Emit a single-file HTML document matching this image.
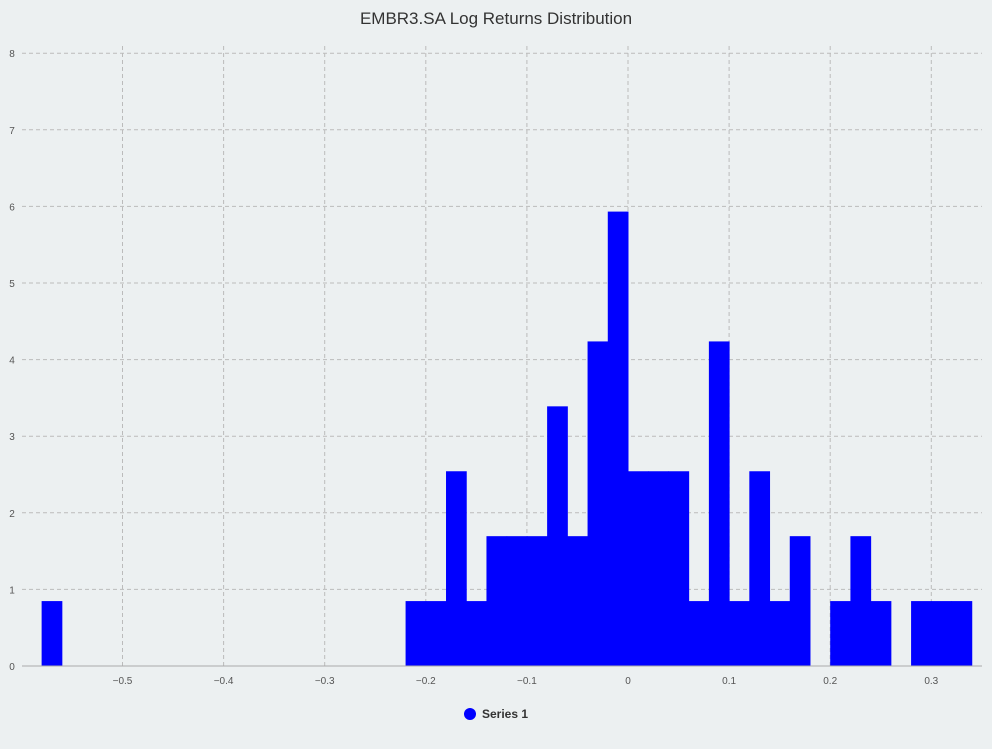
<!DOCTYPE html>
<html><head><meta charset="utf-8"><style>
body{margin:0;background:#ecf0f1;font-family:"Liberation Sans",sans-serif;}
svg text{font-family:"Liberation Sans",sans-serif;}
</style></head><body>
<svg width="992" height="744" id="c">
<rect width="992" height="744" fill="#ecf0f1"/>
<text x="496" y="24" text-anchor="middle" font-size="17" fill="#333">EMBR3.SA Log Returns Distribution</text>
<g id="grid"></g><g id="bars"></g><g id="axes"></g>
<g>
<circle cx="470" cy="714" r="6" fill="#0000ff"/>
<text x="482" y="718" font-size="12" font-weight="bold" fill="#333">Series 1</text>
</g>
</svg>
<script>
const binStarts=[-0.58,-0.22,-0.20,-0.18,-0.16,-0.14,-0.12,-0.10,-0.08,-0.06,-0.04,-0.02,0.00,0.02,0.04,0.06,0.08,0.10,0.12,0.14,0.16,0.18,0.20,0.22,0.24,0.26,0.28,0.30,0.32];
const counts=[1,1,1,3,1,2,2,2,4,2,5,7,3,3,3,1,5,1,3,1,2,0,1,2,1,0,1,1,1];
const binWidth=0.02;
const xTicks=[-0.5,-0.4,-0.3,-0.2,-0.1,0,0.1,0.2,0.3];
const yTicks=[0,1,2,3,4,5,6,7,8];
const density=1/(59*binWidth);
const X=v=>628+v*1011, Y=v=>666-v*76.6;
const ns="http://www.w3.org/2000/svg";
function mk(t,a,p){const e=document.createElementNS(ns,t);for(const k in a)e.setAttribute(k,a[k]);p.appendChild(e);return e;}
const g=document.getElementById('grid'),b=document.getElementById('bars'),ax=document.getElementById('axes');
yTicks.forEach(t=>{
 if(t>0){const l=mk('line',{x1:22,x2:982,y1:Y(t),y2:Y(t),stroke:'#bbb','stroke-dasharray':'4,3'},g);
 
 }
 const tx=mk('text',{x:12,y:Y(t)+4,'font-size':10,fill:'#555','text-anchor':'middle'},ax);tx.textContent=t;
 
 
});
xTicks.forEach(t=>{
 const l=mk('line',{x1:X(t),x2:X(t),y1:46,y2:666,stroke:'#bbb','stroke-dasharray':'4,3'},g);
 
 
 const tx=mk('text',{x:X(t),y:684,'font-size':10,fill:'#555','text-anchor':'middle'},ax);
 tx.textContent=t===0?'0':(t<0?'−':'')+Math.abs(t).toFixed(1).replace(/^0/,'0');
 
 
});
binStarts.forEach((s,i)=>{
 if(!counts[i])return;
 const h=counts[i]*density;
 const r=mk('rect',{x:X(s),y:Y(h),width:X(s+binWidth)-X(s)+0.5,height:Y(0)-Y(h),fill:'#0000ff'},b);
 
 
});
const xa=mk('line',{x1:22,x2:982,y1:666,y2:666,stroke:'#aaa'},ax);


</script>
</body></html>
